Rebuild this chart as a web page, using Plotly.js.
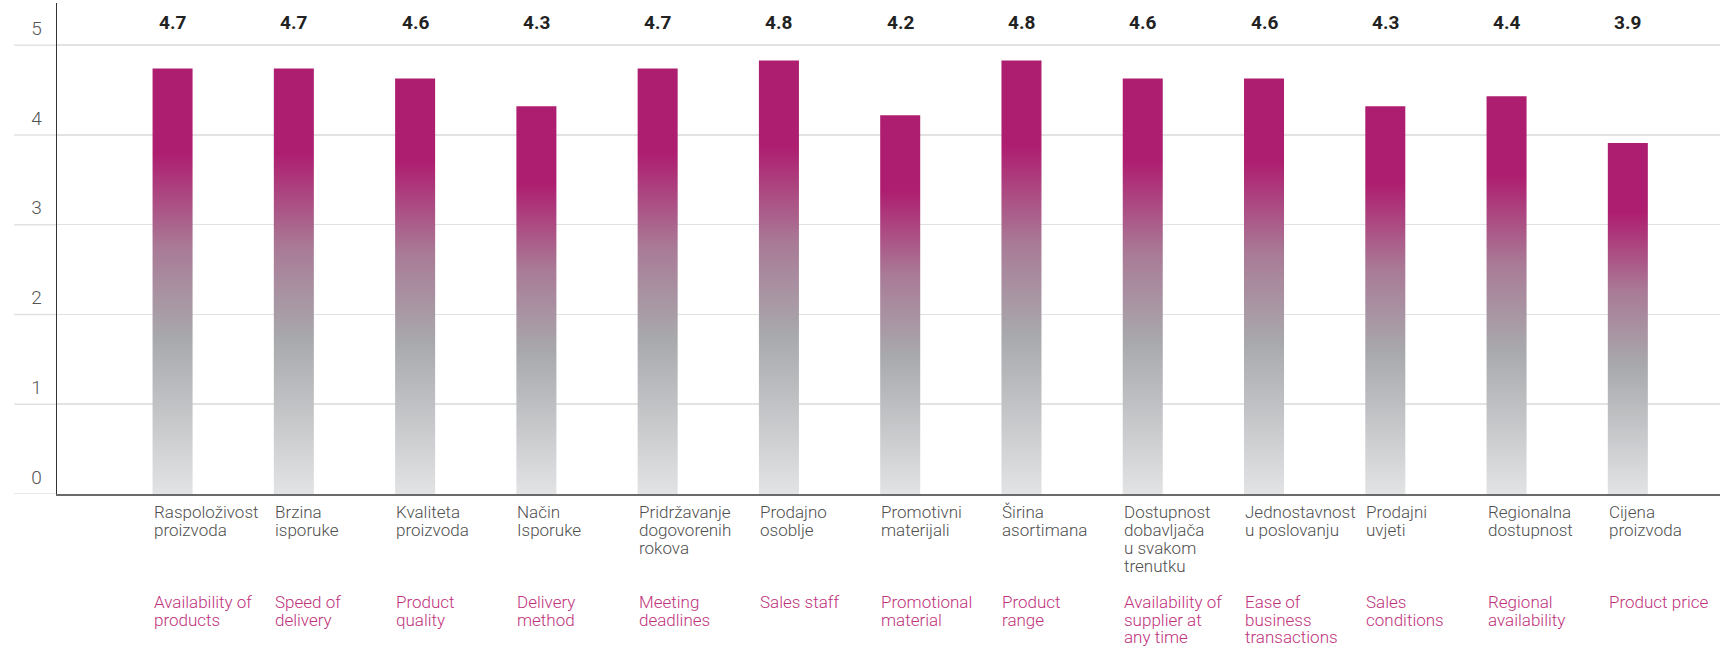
<!DOCTYPE html>
<html><head><meta charset="utf-8">
<script src="https://cdn.plot.ly/plotly-3.0.1.min.js"></script>
<style>html,body{margin:0;padding:0;background:#fff}#chart{width:1722px;height:649px}</style>
</head><body><div id="chart"></div>
<script>
const categoriesHr = [
  ["Raspoloživost","proizvoda"],
  ["Brzina","isporuke"],
  ["Kvaliteta","proizvoda"],
  ["Način","Isporuke"],
  ["Pridržavanje","dogovorenih","rokova"],
  ["Prodajno","osoblje"],
  ["Promotivni","materijali"],
  ["Širina","asortimana"],
  ["Dostupnost","dobavljača","u svakom","trenutku"],
  ["Jednostavnost","u poslovanju"],
  ["Prodajni","uvjeti"],
  ["Regionalna","dostupnost"],
  ["Cijena","proizvoda"]
];
const categoriesEn = [
  ["Availability of","products"],
  ["Speed of","delivery"],
  ["Product","quality"],
  ["Delivery","method"],
  ["Meeting","deadlines"],
  ["Sales staff"],
  ["Promotional","material"],
  ["Product","range"],
  ["Availability of","supplier at","any time"],
  ["Ease of","business","transactions"],
  ["Sales","conditions"],
  ["Regional","availability"],
  ["Product price"]
];
const values = [4.74, 4.74, 4.63, 4.32, 4.74, 4.83, 4.22, 4.83, 4.63, 4.63, 4.32, 4.43, 3.91];
const yTicks = [0, 1, 2, 3, 4, 5];

const W = 1722, H = 649;
const margin = {l: 57, r: 2, t: 3, b: 155};
const plotW = W - margin.l - margin.r;
const halfW = 0.165;
const FONT_LIGHT = "Roboto, 'Liberation Sans', sans-serif";

const gradScale = [
  [0, '#e2e3e5'],
  [0.36, '#a8aaad'],
  [0.58, '#a97a96'],
  [0.8, '#ae1e70'],
  [1, '#ae1e70']
];

const traces = values.map((v, i) => ({
  type: 'scatter',
  mode: 'lines',
  x: [i - halfW, i + halfW, i + halfW, i - halfW, i - halfW],
  y: [0, 0, v, v, 0],
  fill: 'toself',
  fillgradient: {type: 'vertical', colorscale: gradScale, start: 0, stop: v},
  line: {width: 0, color: 'rgba(0,0,0,0)'},
  hoverinfo: 'skip',
  showlegend: false
}));

const annotations = [];
values.forEach((v, i) => {
  annotations.push({
    x: i, xref: 'x', y: 5.25, yref: 'y',
    text: v.toFixed(1), showarrow: false,
    font: {family: "Roboto, sans-serif", size: 19, color: '#222', weight: 700},
    xanchor: 'center', yanchor: 'middle'
  });
  categoriesHr[i].forEach((line, k) => {
    annotations.push({
      x: i - halfW, xref: 'x', y: 0, yref: 'paper',
      text: line, showarrow: false, borderpad: 0,
      font: {family: FONT_LIGHT, size: 17, color: '#4f4f4f', weight: 300},
      xanchor: 'left', yanchor: 'middle',
      yshift: -(512 + 18 * k - (H - margin.b))
    });
  });
  categoriesEn[i].forEach((line, k) => {
    annotations.push({
      x: i - halfW, xref: 'x', y: 0, yref: 'paper',
      text: line, showarrow: false, borderpad: 0,
      font: {family: FONT_LIGHT, size: 17, color: '#c0327c', weight: 300},
      xanchor: 'left', yanchor: 'middle',
      yshift: -(602 + 17.5 * k - (H - margin.b))
    });
  });
});

const shapes = yTicks.map(t => ({
  type: 'line', xref: 'paper', yref: 'y',
  x0: -(margin.l - 14) / plotW, x1: 0, y0: t, y1: t,
  line: {color: '#e2e2e2', width: 1.5}, layer: 'below'
}));

const layout = {
  width: W, height: H,
  margin: margin,
  paper_bgcolor: '#fff', plot_bgcolor: '#fff',
  showlegend: false,
  xaxis: {
    range: [-0.953, 12.76], showgrid: false, zeroline: false,
    showticklabels: false, ticks: '',
    showline: true, linecolor: '#6a6a6a', linewidth: 2, fixedrange: true
  },
  yaxis: {
    range: [0, 5.47], tickvals: yTicks, ticktext: yTicks.map(String),
    showgrid: true, gridcolor: '#e2e2e2', gridwidth: 1.5,
    zeroline: false, ticks: '',
    showline: true, linecolor: '#333', linewidth: 1.5,
    ticklabelshift: -17, ticklabelstandoff: 10,
    tickfont: {family: FONT_LIGHT, size: 19, color: '#555', weight: 300},
    fixedrange: true
  },
  annotations: annotations,
  shapes: shapes
};

Plotly.newPlot('chart', traces, layout, {displayModeBar: false, staticPlot: true});
</script>
</body></html>
